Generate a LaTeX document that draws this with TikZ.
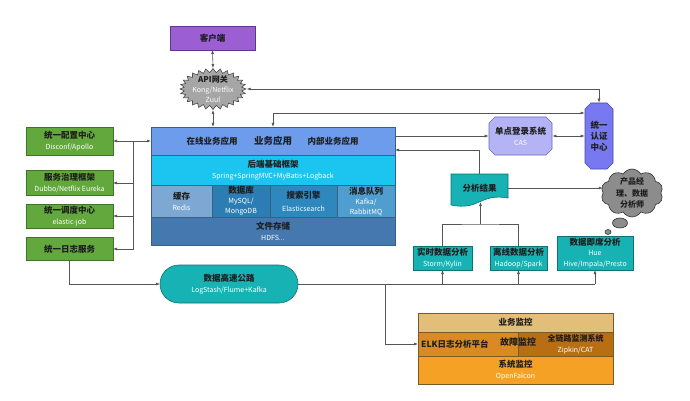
\documentclass[tikz,border=0pt]{standalone}
\usepackage{fontspec}
\setmainfont{Noto Sans CJK SC}
\usetikzlibrary{arrows.meta,shapes.symbols,shapes.misc,shapes.geometric,calc}
\definecolor{purp}{HTML}{9B5FD3}
\definecolor{purpd}{HTML}{5E3590}
\definecolor{apig}{HTML}{A6A6A6}
\definecolor{apid}{HTML}{4D4D4D}
\definecolor{grn}{HTML}{62A83C}
\definecolor{grnd}{HTML}{3D7526}
\definecolor{rowa}{HTML}{6C9CEB}
\definecolor{rowb}{HTML}{1CC5F0}
\definecolor{cella}{HTML}{7EA8D4}
\definecolor{cellb}{HTML}{2B7DB3}
\definecolor{cellc}{HTML}{2E87BD}
\definecolor{celld}{HTML}{4F9ECF}
\definecolor{rowd}{HTML}{4578AF}
\definecolor{blkd}{HTML}{3B5E86}
\definecolor{ddc}{HTML}{B3B3F5}
\definecolor{ddd}{HTML}{6A6AC0}
\definecolor{rzc}{HTML}{7878F0}
\definecolor{rzd}{HTML}{4545B0}
\definecolor{tl}{HTML}{17B2B3}
\definecolor{tld}{HTML}{0D7373}
\definecolor{cloudc}{HTML}{8C8C8C}
\definecolor{cloudd}{HTML}{333333}
\definecolor{moa}{HTML}{E2BE78}
\definecolor{mob}{HTML}{D98A22}
\definecolor{moc}{HTML}{B86F14}
\definecolor{mod}{HTML}{F5A125}
\definecolor{mdk}{HTML}{7A5A25}
\definecolor{lnc}{HTML}{555555}
\definecolor{txt}{HTML}{1E1E1E}
\newcommand\myhd[1]{{\fontsize{8.5}{10}\selectfont\bfseries #1}}
\newcommand\mysb[1]{{\fontsize{7}{9}\selectfont\color{white}#1}}
\begin{document}
\begin{tikzpicture}[x=1pt,y=-1pt,
  bx/.style={rectangle, inner sep=0pt, outer sep=0pt, align=center, text=txt,
    font=\fontsize{8.5}{11}\selectfont, line width=0.6pt},
  gbox/.style={bx, fill=grn, draw=grnd, minimum width=87pt},
  blk/.style={bx, draw=blkd},
  tbox/.style={bx, fill=tl, draw=tld},
  mbox/.style={bx, draw=mdk},
  lbl/.style={inner sep=0pt, align=center, text=txt, font=\fontsize{8.5}{10}\selectfont},
  line/.style={draw=lnc, line width=0.6pt},
  arr/.style={line, -{Latex[length=4pt,width=3pt]}},
  arr2/.style={line, {Latex[length=4pt,width=3pt]}-{Latex[length=4pt,width=3pt]}}]
\fill[white] (0,0) rectangle (690,401);
\useasboundingbox (0,0) rectangle (690,401);

% client and gateway
\node[bx, fill=purp, draw=purpd, minimum width=85pt, minimum height=24pt] (cli) at (212.5,38) {\myhd{客户端}};
\node[starburst, starburst points=28, starburst point height=4pt, random starburst=0,
  fill=apig, draw=apid, line width=0.6pt, minimum width=66pt, minimum height=41pt, inner sep=0pt] (api) at (213,89) {};
\node[lbl, font=\fontsize{8}{9.8}\selectfont] (apit) at (api.center) {{\bfseries API网关}\\\mysb{Kong/Netflix}\\\mysb{Zuul}};

% main block
\node[blk, fill=rowa, minimum width=244pt, minimum height=28pt] (r1) at (273,141) {};
\node[lbl] (t1) at (212,141) {\myhd{在线业务应用}};
\node[lbl, font=\fontsize{9.5}{11}\selectfont\bfseries] (t2) at (273,141) {业务应用};
\node[lbl] (t3) at (333,141) {\myhd{内部业务应用}};
\node[blk, fill=rowb, minimum width=244pt, minimum height=30pt] (r2) at (273,170) {\myhd{后端基础框架}\\\mysb{Spring+SpringMVC+MyBatis+Logback}};
\node[blk, fill=cella, minimum width=61pt, minimum height=32pt] (c1) at (181.5,201) {\myhd{缓存}\\\mysb{Redis}};
\node[blk, fill=cellb, minimum width=58pt, minimum height=32pt, font=\fontsize{8.5}{10}\selectfont] (c2) at (241,201) {\myhd{数据库}\\\mysb{MySQL/}\\\mysb{MongoDB}};
\node[blk, fill=cellc, minimum width=67pt, minimum height=32pt, font=\fontsize{8.5}{13}\selectfont] (c3) at (303.5,201) {\myhd{搜索引擎}\\\mysb{Elasticsearch}};
\node[blk, fill=celld, minimum width=58pt, minimum height=32pt, font=\fontsize{8.5}{10}\selectfont] (c4) at (366,201) {\myhd{消息队列}\\\mysb{Kafka/}\\\mysb{RabbitMQ}};
\node[blk, fill=rowd, minimum width=244pt, minimum height=28pt] (r4) at (273,231) {\myhd{文件存储}\\\mysb{HDFS...}};

% left column
\node[gbox, minimum height=28pt] (g1) at (69.5,141) {\myhd{统一配置中心}\\\mysb{Disconf/Apollo}};
\node[gbox, minimum height=25pt] (g2) at (69.5,183) {\myhd{服务治理框架}\\\mysb{Dubbo/Netflix Eureka}};
\node[gbox, minimum height=24pt] (g3) at (69.5,216) {\myhd{统一调度中心}\\\mysb{elastic-job}};
\node[gbox, minimum height=23pt] (g4) at (69.5,249) {\myhd{统一日志服务}};

% data highway
\node[bx, fill=tl, draw=tld, rounded corners=19pt, minimum width=138pt, minimum height=38pt] (hw) at (229,284) {\myhd{数据高速公路}\\\mysb{LogStash/Flume+Kafka}};

% analysis
\node[tbox, minimum width=59pt, minimum height=24pt] (rt) at (442.5,258) {\myhd{实时数据分析}\\\mysb{Storm/Kylin}};
\node[tbox, minimum width=57pt, minimum height=24pt] (lx) at (518.5,258) {\myhd{离线数据分析}\\\mysb{Hadoop/Spark}};
\node[tbox, minimum width=76pt, minimum height=34pt, font=\fontsize{8.5}{10.5}\selectfont] (jx) at (595,253) {\myhd{数据即席分析}\\\mysb{Hue}\\\mysb{Hive/Impala/Presto}};
\node[bx, minimum width=57pt, minimum height=28pt] (fx) at (479.5,188) {};
\draw[fill=tl, draw=tld, line width=0.6pt] (fx.north west) -- (fx.north east) -- ($(fx.south east)+(0,-4)$)
  .. controls ($(fx.south)+(0,-9)$) and ($(fx.south)+(0,9)$) .. ($(fx.south west)+(0,3)$) -- cycle;
\node[lbl] (fxt) at (fx.center) {\myhd{分析结果}};

% sso and auth
\node[chamfered rectangle, chamfered rectangle xsep=3pt, chamfered rectangle ysep=3pt, inner sep=0pt,
  fill=ddc, draw=ddd, line width=0.6pt, minimum width=63pt, minimum height=38pt, align=center, text=txt,
  font=\fontsize{8.5}{11}\selectfont] (dd) at (520.5,136) {\myhd{单点登录系统}\\\mysb{CAS}};
\node[chamfered rectangle, chamfered rectangle xsep=3pt, chamfered rectangle ysep=3pt, inner sep=0pt,
  fill=rzc, draw=rzd, line width=0.6pt, minimum width=28pt, minimum height=66pt, align=center, text=txt,
  font=\fontsize{8.5}{11}\selectfont] (rz) at (599,136) {\myhd{统一}\\\myhd{认证}\\\myhd{中心}};

% cloud
\node[cloud, cloud puffs=10, cloud puff arc=120, aspect=1.3, fill=cloudc, draw=cloudd, line width=0.6pt,
  minimum width=62pt, minimum height=48pt, inner sep=0pt] (cl) at (632,193) {};
\node[lbl, font=\fontsize{8}{11.5}\selectfont] (clt) at (cl.center) {{\bfseries 产品经}\\{\bfseries 理、数据}\\{\bfseries 分析师}};
\node[ellipse, fill=cloudc, draw=cloudd, line width=0.6pt, minimum width=15pt, minimum height=10pt, inner sep=0pt] (b1) at (620,223) {};
\node[ellipse, fill=cloudc, draw=cloudd, line width=0.6pt, minimum width=6pt, minimum height=5pt, inner sep=0pt] (b2) at (608,232) {};

% monitoring
\node[mbox, fill=moa, minimum width=195pt, minimum height=19pt] (m1) at (515.5,322.5) {\myhd{业务监控}};
\node[mbox, fill=mob, minimum width=100pt, minimum height=24pt] (m2l) at (468,344) {};
\node[mbox, fill=moc, minimum width=95pt, minimum height=24pt] (m2r) at (565.5,344) {};
\node[mbox, fill=mod, minimum width=195pt, minimum height=28pt] (m3) at (515.5,370) {\myhd{系统监控}\\\mysb{OpenFalcon}};
\node[lbl, anchor=west] (elk) at ($(m2l.west)+(3,0)$) {\myhd{ELK日志分析平台}};
\node[lbl, font=\fontsize{9}{10}\selectfont\bfseries] (gz) at ($(m2l.east)+(0,-2)$) {故障监控};
\node[lbl, font=\fontsize{8.5}{11}\selectfont] (qz) at ($(m2r.center)+(10,0)$) {{\fontsize{8}{10}\selectfont\bfseries 全链路监测系统}\\\mysb{Zipkin/CAT}};

% connectors
\draw[arr2] (cli.south) -- (api.north);
\draw[arr2] (api.south) -- (api.south |- r1.north);
\draw[arr2] (api.east) -| (rz.north);
\coordinate (rzA) at ($(rz.west)+(0,-23)$);
\draw[arr2] (r1.north) |- (rzA);
\draw[arr] (r1.east |- dd.west) -- (dd.west);
\draw[arr2] (dd.east) -- (rz.west);
\draw[arr] (fx.north) |- ($(r1.east)+(0,9)$);
\draw[arr] (fx.east) -- (fx.east -| cl.west);

\draw[arr2] (g1.east) -- (g1.east -| r1.west);
\coordinate (tr) at ($(g1.east)+(20,0)$);
\draw[arr] (tr) |- (g2.east);
\draw[arr] (tr) |- (g3.east);
\draw[arr] (tr) |- (g4.east);
\draw[arr] (g4.south) |- (hw.west);

\draw[line] (hw.east) -- (hw.east -| jx.south);
\draw[arr] (hw.east -| rt.south) -- (rt.south);
\draw[arr] (hw.east -| lx.south) -- (lx.south);
\draw[arr] (hw.east -| jx.south) -- (jx.south);
\coordinate (mv) at ($(hw.east)+(87,0)$);
\draw[arr] (mv) |- (m2l.west);

\coordinate (jn) at ($(rt.north)!0.5!(lx.north)+(0,-22)$);
\draw[line] (rt.north) |- (jn) -| (lx.north);
\draw[arr] (jn) -- (jn |- fx.south);
\end{tikzpicture}
\end{document}
